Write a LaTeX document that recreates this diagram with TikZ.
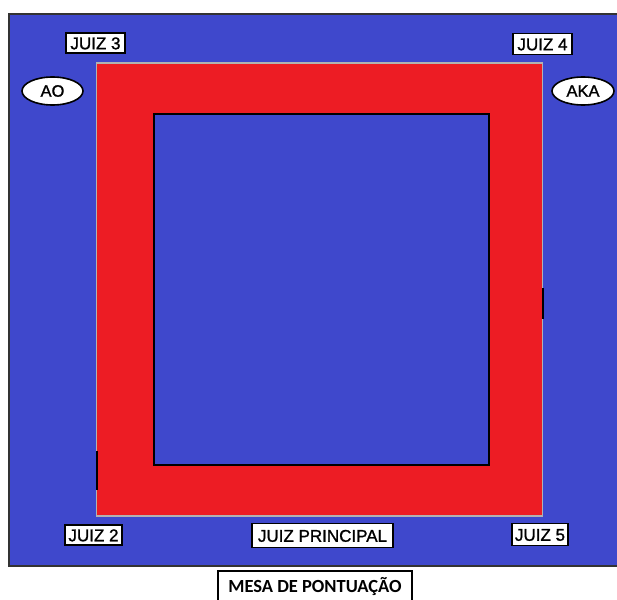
\documentclass[tikz,border=0pt]{standalone}
\usepackage{fontspec}
\setmainfont{Liberation Sans}
\newfontfamily\labelfont[FakeBold=1.2]{Liberation Sans}
\newfontfamily\calfont{Carlito}
\usetikzlibrary{shapes.geometric}
\definecolor{matblue}{HTML}{3F48CC}
\definecolor{matred}{HTML}{ED1C24}
\tikzset{
  judge/.style={draw=black, line width=1.6pt, fill=white, inner sep=0pt,
    font=\labelfont\fontsize{17}{17}\selectfont, text height=12.5pt, text depth=0pt},
  side/.style={ellipse, draw=black, line width=1.6pt, fill=white, inner sep=0pt,
    font=\labelfont\fontsize{16.5}{16.5}\selectfont},
  tick/.style={black, line width=1.4pt}
}
\begin{document}
\begin{tikzpicture}[x=1pt,y=-1pt]
\useasboundingbox (0,0) rectangle (617,599);
\fill[white] (0,0) rectangle (617,599);
% mat area
\filldraw[fill=matblue, draw=black!80, line width=1.5pt] (9,14) rectangle (640,566);
% red zone
\filldraw[fill=matred, draw=black!30, line width=1.5pt] (96.5,63) rectangle (542.5,516);
% inner competition area
\filldraw[fill=matblue, draw=black, line width=1.3pt] (154,114) rectangle (489,465);
% small dark marks on the red border
\draw[tick] (97,451) -- (97,490);
\draw[tick] (543,288) -- (543,319);
% judges
\node[judge, minimum width=59pt, minimum height=20pt] (j3) at (95.5,43) {JUIZ 3};
\node[judge, minimum width=59pt, minimum height=21pt] (j4) at (542.5,44) {JUIZ 4};
\node[judge, minimum width=57pt, minimum height=20pt] (j2) at (93.5,535) {JUIZ 2};
\node[judge, minimum width=56pt, minimum height=22pt] (j5) at (540,534.5) {JUIZ 5};
\node[judge, minimum width=141pt, minimum height=24pt] (jp) at (322.5,535.5) {JUIZ PRINCIPAL};
% sides
\node[side, minimum width=61pt, minimum height=28pt] (ao) at (52.5,91) {AO};
\node[side, minimum width=62pt, minimum height=28pt] (aka) at (583,91) {AKA};
% scoring table
\node[draw=black, line width=2pt, fill=white, inner sep=0pt,
  minimum width=194pt, minimum height=32pt,
  font=\calfont\bfseries\fontsize{18.5}{18.5}\selectfont] (mesa) at (315,587) {MESA DE PONTUAÇÃO};
\end{tikzpicture}
\end{document}
